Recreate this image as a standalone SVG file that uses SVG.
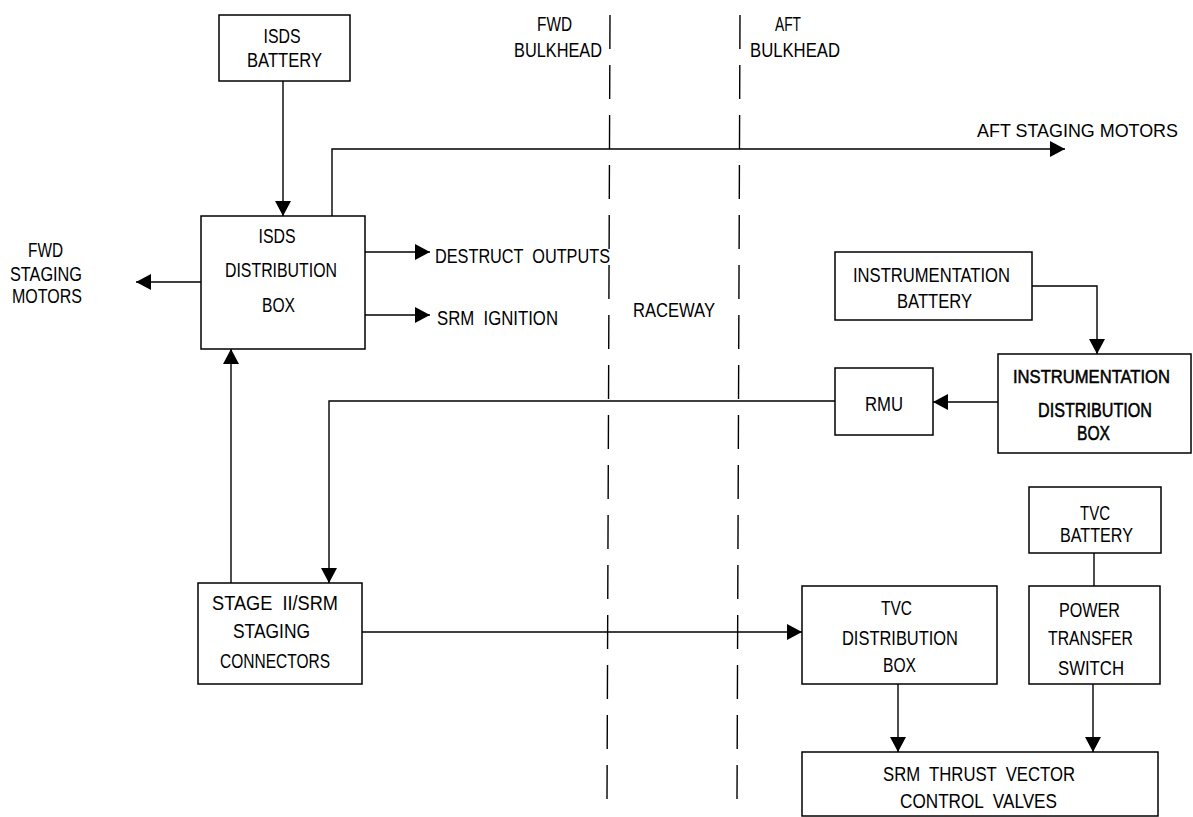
<svg xmlns="http://www.w3.org/2000/svg" width="1193" height="817" viewBox="0 0 1193 817">
<style>
text{font-family:"Liberation Sans",Arial,sans-serif;font-size:20px;fill:#000;text-anchor:middle}
.st{text-anchor:start}
.en{text-anchor:end}
.sm{font-size:18px}
.box{fill:#fff;stroke:#000;stroke-width:1.5}
.ln{fill:none;stroke:#000;stroke-width:1.4}
.arr{marker-end:url(#ah)}
.bulk{fill:none;stroke:#000;stroke-width:1.4;stroke-dasharray:34 16}
.heavy{stroke:#000;stroke-width:0.5}
</style>
<defs>
<marker id="ah" markerUnits="userSpaceOnUse" markerWidth="16" markerHeight="16" refX="15" refY="8" orient="auto">
<path d="M0,0 L15,8 L0,16 z" fill="#000"/>
</marker>
</defs>
<rect width="1193" height="817" fill="#fff"/>

<g id="bulkheads">
<line class="bulk" x1="610" y1="15" x2="607" y2="800"/>
<line class="bulk" x1="740" y1="15" x2="737" y2="800"/>
<text x="554.5" y="31" textLength="35" lengthAdjust="spacingAndGlyphs">FWD</text>
<text x="558" y="57" textLength="88" lengthAdjust="spacingAndGlyphs">BULKHEAD</text>
<text x="788" y="31" textLength="26" lengthAdjust="spacingAndGlyphs">AFT</text>
<text x="795" y="57" textLength="90" lengthAdjust="spacingAndGlyphs">BULKHEAD</text>
<text x="674" y="317" textLength="82" lengthAdjust="spacingAndGlyphs">RACEWAY</text>
</g>

<g id="connectors">
<path class="ln arr" d="M283,81 V216"/>
<path class="ln arr" d="M332,216 V149 H1065"/>
<path class="ln arr" d="M201,282 H136"/>
<path class="ln arr" d="M365,252 H430"/>
<path class="ln arr" d="M365,315 H430"/>
<path class="ln arr" d="M1032,286 H1097 V354"/>
<path class="ln arr" d="M998,402 H933"/>
<path class="ln arr" d="M835,401 H329 V583"/>
<path class="ln arr" d="M231,583 V349"/>
<path class="ln arr" d="M362,632 H802"/>
<path class="ln" d="M1094,553 V586"/>
<path class="ln arr" d="M898,684 V752"/>
<path class="ln arr" d="M1093,684 V752"/>
</g>

<g id="labels">
<text x="45.5" y="257" textLength="35" lengthAdjust="spacingAndGlyphs">FWD</text>
<text x="46" y="281" textLength="72" lengthAdjust="spacingAndGlyphs">STAGING</text>
<text x="47" y="303" textLength="70" lengthAdjust="spacingAndGlyphs">MOTORS</text>
<text class="st" x="435" y="263" textLength="175" lengthAdjust="spacingAndGlyphs" xml:space="preserve">DESTRUCT  OUTPUTS</text>
<text class="st" x="437" y="325" textLength="121" lengthAdjust="spacingAndGlyphs" xml:space="preserve">SRM  IGNITION</text>
<text class="en sm" x="1178" y="137" textLength="201" lengthAdjust="spacingAndGlyphs">AFT STAGING MOTORS</text>
</g>

<g id="isds-battery">
<rect class="box" x="219" y="15" width="131" height="66"/>
<text x="282" y="43" textLength="37" lengthAdjust="spacingAndGlyphs">ISDS</text>
<text x="284.5" y="67" textLength="75" lengthAdjust="spacingAndGlyphs">BATTERY</text>
</g>

<g id="isds-distribution-box">
<rect class="box" x="201" y="216" width="164" height="133"/>
<text x="277" y="243" textLength="37" lengthAdjust="spacingAndGlyphs">ISDS</text>
<text x="281" y="277" textLength="112" lengthAdjust="spacingAndGlyphs">DISTRIBUTION</text>
<text x="278.5" y="312" textLength="33" lengthAdjust="spacingAndGlyphs">BOX</text>
</g>

<g id="instrumentation-battery">
<rect class="box" x="835" y="252" width="197" height="68"/>
<text x="931.5" y="282" textLength="157" lengthAdjust="spacingAndGlyphs">INSTRUMENTATION</text>
<text x="934.5" y="308" textLength="75" lengthAdjust="spacingAndGlyphs">BATTERY</text>
</g>

<g id="instrumentation-distribution-box">
<rect class="box" x="998" y="354" width="193" height="99"/>
<text class="heavy sm" x="1091.5" y="383" textLength="157" lengthAdjust="spacingAndGlyphs">INSTRUMENTATION</text>
<text class="heavy" x="1095" y="417" textLength="114" lengthAdjust="spacingAndGlyphs">DISTRIBUTION</text>
<text class="heavy" x="1093.5" y="440" textLength="33" lengthAdjust="spacingAndGlyphs">BOX</text>
</g>

<g id="rmu">
<rect class="box" x="835" y="368" width="98" height="67"/>
<text x="884" y="411" textLength="38" lengthAdjust="spacingAndGlyphs">RMU</text>
</g>

<g id="stage-ii-srm-staging-connectors">
<rect class="box" x="198" y="583" width="164" height="101"/>
<text x="275" y="610" textLength="126" lengthAdjust="spacingAndGlyphs" xml:space="preserve">STAGE  II/SRM</text>
<text x="271.5" y="638" textLength="77" lengthAdjust="spacingAndGlyphs">STAGING</text>
<text x="275" y="668" textLength="110" lengthAdjust="spacingAndGlyphs">CONNECTORS</text>
</g>

<g id="tvc-battery">
<rect class="box" x="1029" y="487" width="132" height="66"/>
<text x="1095" y="520" textLength="30" lengthAdjust="spacingAndGlyphs">TVC</text>
<text x="1096.5" y="542" textLength="73" lengthAdjust="spacingAndGlyphs">BATTERY</text>
</g>

<g id="tvc-distribution-box">
<rect class="box" x="802" y="586" width="195" height="98"/>
<text x="896.5" y="615" textLength="31" lengthAdjust="spacingAndGlyphs">TVC</text>
<text x="900" y="645" textLength="116" lengthAdjust="spacingAndGlyphs">DISTRIBUTION</text>
<text x="899.5" y="672" textLength="33" lengthAdjust="spacingAndGlyphs">BOX</text>
</g>

<g id="power-transfer-switch">
<rect class="box" x="1029" y="586" width="131" height="98"/>
<text x="1089.5" y="617" textLength="61" lengthAdjust="spacingAndGlyphs">POWER</text>
<text x="1090.5" y="645" textLength="85" lengthAdjust="spacingAndGlyphs">TRANSFER</text>
<text x="1091" y="675" textLength="66" lengthAdjust="spacingAndGlyphs">SWITCH</text>
</g>

<g id="srm-thrust-vector-control-valves">
<rect class="box" x="802" y="752" width="356" height="64"/>
<text x="979" y="781" textLength="192" lengthAdjust="spacingAndGlyphs" xml:space="preserve">SRM  THRUST  VECTOR</text>
<text x="978.5" y="808" textLength="157" lengthAdjust="spacingAndGlyphs" xml:space="preserve">CONTROL  VALVES</text>
</g>
</svg>
